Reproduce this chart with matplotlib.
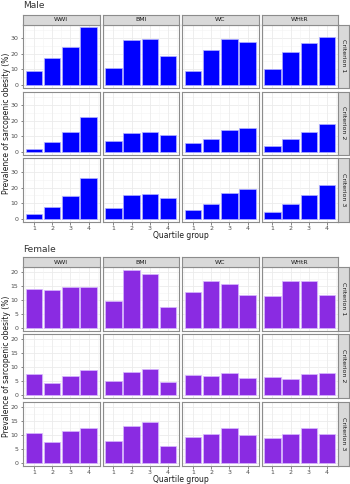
import matplotlib.pyplot as plt
import numpy as np

plt.rcParams['font.family'] = ['DejaVu Sans']

indices = ['WWI', 'BMI', 'WC', 'WHtR']
criteria = ['Criterion 1', 'Criterion 2', 'Criterion 3']
quartiles = [1, 2, 3, 4]

# Male prevalence (%) by criterion -> index -> quartile
male_c1 = [[8.8, 17.5, 24.6, 37.0], [11.0, 28.8, 29.5, 18.5],
           [9.0, 22.3, 29.3, 27.6], [9.9, 21.0, 26.7, 30.5]]
male_c2 = [[1.9, 6.3, 12.4, 22.3], [6.7, 12.0, 12.4, 10.9],
           [5.3, 8.4, 13.7, 15.4], [3.8, 8.4, 12.4, 17.9]]
male_c3 = [[2.9, 7.6, 14.5, 26.3], [6.9, 15.2, 15.8, 13.1],
           [5.7, 9.7, 16.8, 19.2], [4.4, 9.7, 15.2, 21.7]]

female_c1 = [[14.1, 13.6, 14.8, 14.8], [9.8, 20.8, 19.3, 7.6],
             [12.8, 16.7, 15.9, 11.8], [11.6, 16.7, 16.7, 12.0]]
female_c2 = [[7.6, 4.3, 6.7, 9.1], [5.1, 8.4, 9.5, 4.8],
             [7.1, 6.7, 7.8, 6.0], [6.3, 5.9, 7.6, 7.8]]
female_c3 = [[10.5, 7.3, 11.3, 12.4], [7.6, 13.2, 14.4, 6.1],
             [9.0, 10.1, 12.4, 9.8], [8.8, 10.1, 12.4, 10.1]]

male_ticks = [0, 10, 20, 30]
female_ticks = [0, 5, 10, 15, 20]

W, H = 350, 484
fig = plt.figure(figsize=(W / 100, H / 100), dpi=100)

col_left = [23, 102.5, 182, 261.5]
col_w = 76.5
border = '#8c8c8c'


def px(x, y, w, h):
    return [x / W, 1 - (y + h) / H, w / W, h / H]


def draw_block(title, data, ticks, color, edge, top, row_tops, row_h):
    fig.text(23 / W, 1 - top / H, title, fontsize=6.5, color='#333333', va='center')
    ymax = max(max(max(r) for r in d) for d in data)
    lo, hi = -0.05 * ymax, ymax * 1.05
    minor = [t + (ticks[1] - ticks[0]) / 2 for t in ticks]
    for ri, crit in enumerate(data):
        for ci, vals in enumerate(crit):
            ax = fig.add_axes(px(col_left[ci], row_tops[ri], col_w, row_h))
            ax.set_axisbelow(True)
            for t in ticks:
                ax.axhline(t, color='#ebebeb', lw=0.6, zorder=0)
            for t in minor:
                ax.axhline(t, color='#f4f4f4', lw=0.4, zorder=0)
            for q in quartiles:
                ax.axvline(q, color='#ebebeb', lw=0.6, zorder=0)
            for q in [0.5, 1.5, 2.5, 3.5, 4.5]:
                ax.axvline(q, color='#f4f4f4', lw=0.4, zorder=0)
            ax.bar(quartiles, vals, width=0.9, color=color, edgecolor=edge, lw=0.5, zorder=2)
            ax.set_xlim(0.4, 4.6)
            ax.set_ylim(lo, hi)
            ax.set_yticks(ticks)
            ax.set_xticks(quartiles)
            ax.tick_params(length=1.8, width=0.5, color='#555555', labelsize=4.5,
                           labelcolor='#4d4d4d', pad=1.5)
            if ci > 0:
                ax.set_yticklabels([])
                ax.tick_params(axis='y', length=0)
            if ri < 2:
                ax.set_xticklabels([])
                ax.tick_params(axis='x', length=0)
            for s in ax.spines.values():
                s.set_color(border)
                s.set_linewidth(0.8)
            if ri == 0:
                sax = fig.add_axes(px(col_left[ci], row_tops[0] - 10, col_w, 10))
                sax.set_xticks([]); sax.set_yticks([])
                sax.set_facecolor('#d9d9d9')
                for s in sax.spines.values():
                    s.set_color(border); s.set_linewidth(0.8)
                sax.text(0.5, 0.5, indices[ci], fontsize=4.5, color='#1a1a1a',
                         ha='center', va='center', transform=sax.transAxes)
            if ci == 3:
                sax = fig.add_axes(px(col_left[3] + col_w, row_tops[ri], 10.5, row_h))
                sax.set_xticks([]); sax.set_yticks([])
                sax.set_facecolor('#d9d9d9')
                for s in sax.spines.values():
                    s.set_color(border); s.set_linewidth(0.8)
                sax.text(0.5, 0.5, criteria[ri], fontsize=4.5, color='#1a1a1a', rotation=-90,
                         ha='center', va='center', transform=sax.transAxes)
    bottom = row_tops[-1] + row_h
    fig.text((col_left[0] + col_left[3] + col_w) / 2 / W, 1 - (bottom + 14) / H, 'Quartile group',
             fontsize=5.5, color='#1a1a1a', ha='center', va='center')
    fig.text(7 / W, 1 - (row_tops[0] + bottom) / 2 / H, 'Prevalence of sarcopenic obesity (%)',
             fontsize=5.5, color='#1a1a1a', ha='center', va='center', rotation=90)


draw_block('Male', [male_c1, male_c2, male_c3], male_ticks, '#0000ff', '#b0b0ff',
           6, [24.5, 91.5, 158.5], 63)
draw_block('Female', [female_c1, female_c2, female_c3], female_ticks, '#8a2be2', '#d8b8ff',
           249, [267, 334, 401.5], 64)

fig.savefig('out.png', dpi=100, facecolor='white')
